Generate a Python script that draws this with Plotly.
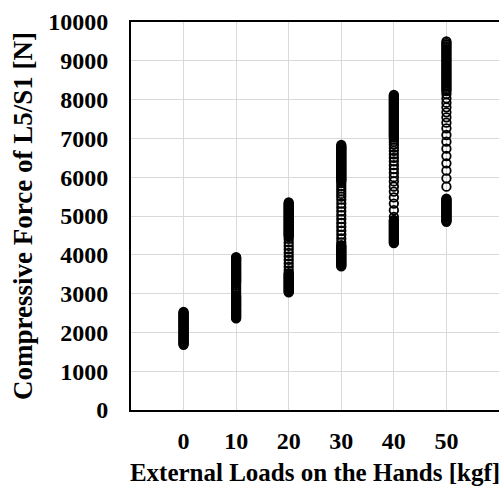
import plotly.graph_objects as go

loads = [0, 10, 20, 30, 40, 50]

force_0 = [1680, 1705, 1730, 1755, 1780, 1805, 1830, 1855, 1880, 1905, 1930, 1955,
           1980, 2005, 2030, 2055, 2080, 2105, 2130, 2155, 2180, 2205, 2230, 2255,
           2280, 2305, 2330, 2355, 2380, 2405, 2430, 2455, 2480, 2505, 2530]
force_10 = [2360, 2385, 2410, 2435, 2460, 2485, 2510, 2535, 2560, 2585, 2610, 2635,
            2660, 2685, 2710, 2735, 2760, 2785, 2810, 2835, 2860, 2885, 2910, 2935,
            2960, 3010, 3060, 3110, 3160, 3210, 3260, 3300, 3325, 3350, 3375, 3400,
            3425, 3450, 3475, 3500, 3525, 3550, 3575, 3600, 3625, 3650, 3675, 3700,
            3725, 3750, 3775, 3800, 3825, 3850, 3875, 3900, 3920, 3940]
force_20 = [3030, 3055, 3080, 3105, 3130, 3155, 3180, 3205, 3230, 3255, 3280, 3305,
            3330, 3355, 3380, 3405, 3430, 3455, 3480, 3505, 3530, 3600, 3690, 3780,
            3870, 3960, 4050, 4140, 4230, 4320, 4410, 4470, 4495, 4520, 4545, 4570,
            4595, 4620, 4645, 4670, 4695, 4720, 4745, 4770, 4795, 4820, 4845, 4870,
            4895, 4920, 4945, 4970, 4995, 5020, 5045, 5070, 5095, 5120, 5145, 5170,
            5195, 5220, 5245, 5270, 5295, 5320, 5350]
force_30 = [3700, 3725, 3750, 3775, 3800, 3825, 3850, 3875, 3900, 3925, 3950, 3975,
            4000, 4025, 4050, 4075, 4100, 4125, 4150, 4175, 4200, 4225, 4250, 4320,
            4420, 4520, 4620, 4720, 4820, 4920, 5020, 5120, 5220, 5320, 5420, 5500,
            5570, 5640, 5710, 5780, 5850, 5900, 5925, 5950, 5975, 6000, 6025, 6050,
            6075, 6100, 6125, 6150, 6175, 6200, 6225, 6250, 6275, 6300, 6325, 6350,
            6375, 6400, 6425, 6450, 6475, 6500, 6525, 6550, 6575, 6600, 6625, 6650,
            6675, 6700, 6725, 6750, 6775, 6800, 6830]
force_40 = [4300, 4325, 4350, 4375, 4400, 4425, 4450, 4475, 4500, 4525, 4550, 4575,
            4600, 4625, 4650, 4675, 4700, 4725, 4750, 4775, 4800, 4825, 4850, 4875,
            4900, 4980, 5150, 5320, 5480, 5630, 5760, 5890, 6000, 6110, 6210, 6310,
            6410, 6500, 6590, 6680, 6760, 6840, 6910, 6970, 7020, 7045, 7070, 7095,
            7120, 7145, 7170, 7195, 7220, 7245, 7270, 7295, 7320, 7345, 7370, 7395,
            7420, 7445, 7470, 7495, 7520, 7545, 7570, 7595, 7620, 7645, 7670, 7695,
            7720, 7745, 7770, 7795, 7820, 7845, 7870, 7895, 7920, 7945, 7970, 7995,
            8020, 8045, 8070, 8095, 8120]
force_50 = [4850, 4875, 4900, 4925, 4950, 4975, 5000, 5025, 5050, 5075, 5100, 5125,
            5150, 5175, 5200, 5225, 5250, 5275, 5300, 5325, 5350, 5375, 5400, 5425,
            5450, 5756, 5971, 6168, 6357, 6546, 6735, 6916, 7088, 7260, 7405, 7543,
            7672, 7801, 7921, 8033, 8144, 8220, 8260, 8300, 8340, 8380, 8420, 8460,
            8500, 8540, 8580, 8620, 8660, 8700, 8740, 8780, 8820, 8860, 8900, 8940,
            8980, 9020, 9060, 9100, 9140, 9180, 9220, 9260, 9300, 9340, 9380, 9420,
            9460, 9500]

series = [force_0, force_10, force_20, force_30, force_40, force_50]

xs, ys = [], []
for load, vals in zip(loads, series):
    xs += [load] * len(vals)
    ys += vals

x_ticks = [0, 10, 20, 30, 40, 50]
y_ticks = [0, 1000, 2000, 3000, 4000, 5000, 6000, 7000, 8000, 9000, 10000]
y_tick_text = [str(v) for v in y_ticks]

FONT = "Liberation Serif"

fig = go.Figure()
fig.add_trace(go.Scatter(
    x=xs, y=ys, mode="markers",
    marker=dict(symbol="circle-open", size=8.5, color="black",
                line=dict(color="black", width=1.8)),
    showlegend=False, hoverinfo="skip",
))

fig.update_layout(
    width=499, height=488,
    margin=dict(l=131, r=0, t=22, b=78),
    paper_bgcolor="white", plot_bgcolor="white",
    font=dict(family=FONT, size=24, color="black", weight=700),
    xaxis=dict(
        range=[-10, 60], tickvals=x_ticks, ticks="",
        showgrid=True, gridcolor="#d9d9d9", gridwidth=1,
        showline=True, linecolor="black", linewidth=2, mirror=True,
        zeroline=False, ticklabelstandoff=8,
        tickfont=dict(family=FONT, size=24, weight=700),
        title=dict(text="External Loads on the Hands [kgf]", standoff=11,
                   font=dict(family=FONT, size=25, weight=700)),
    ),
    yaxis=dict(
        range=[0, 10000], tickvals=y_ticks, ticktext=y_tick_text, ticks="",
        showgrid=True, gridcolor="#d9d9d9", gridwidth=1,
        showline=True, linecolor="black", linewidth=2,
        zeroline=False, ticklabelstandoff=16,
        tickfont=dict(family=FONT, size=24, weight=700),
        title=dict(text="Compressive Force of L5/S1 [N]", standoff=8,
                   font=dict(family=FONT, size=27, weight=700)),
    ),
)

fig.write_html("out.html")
